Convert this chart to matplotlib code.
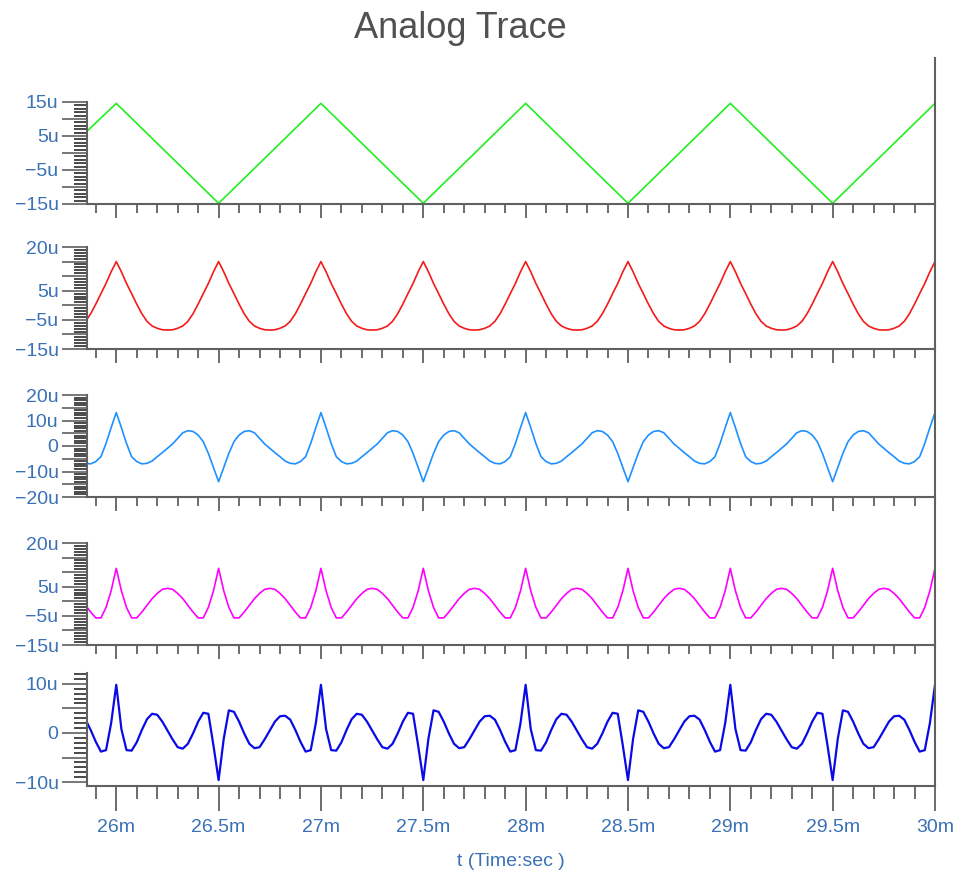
import numpy as np
import matplotlib
matplotlib.use("Agg")
import matplotlib.pyplot as plt
from matplotlib.ticker import MultipleLocator, FuncFormatter
from matplotlib.lines import Line2D

plt.rcParams["font.family"] = ["Liberation Sans", "DejaVu Sans"]

# time axis in ms, sample step 0.025 ms
t = np.round(np.arange(167) * 0.025 + 25.85, 3)

# trace 1: triangle, vertices only (uV)
tri_t = [25.85, 26.0, 26.5, 27.0, 27.5, 28.0, 28.5, 29.0, 29.5, 30.0]
tri_v = [6.0, 14.6, -14.8, 14.6, -14.8, 14.6, -14.8, 14.6, -14.8, 14.6]

# traces 2-5 sampled on t (uV)
red_v = [
    -5.5, -2.9, 0.4, 4.0, 7.5, 11.5,
    15, 11.5, 7.5, 4.0, 0.4, -2.9, -5.5, -7.1, -7.9, -8.4, -8.5, -8.4, -7.9, -7.1, -5.5, -2.9, 0.4, 4.0, 7.5, 11.5,
    15, 11.5, 7.5, 4.0, 0.4, -2.9, -5.5, -7.1, -7.9, -8.4, -8.5, -8.4, -7.9, -7.1, -5.5, -2.9, 0.4, 4.0, 7.5, 11.5,
    15, 11.5, 7.5, 4.0, 0.4, -2.9, -5.5, -7.1, -7.9, -8.4, -8.5, -8.4, -7.9, -7.1, -5.5, -2.9, 0.4, 4.0, 7.5, 11.5,
    15, 11.5, 7.5, 4.0, 0.4, -2.9, -5.5, -7.1, -7.9, -8.4, -8.5, -8.4, -7.9, -7.1, -5.5, -2.9, 0.4, 4.0, 7.5, 11.5,
    15, 11.5, 7.5, 4.0, 0.4, -2.9, -5.5, -7.1, -7.9, -8.4, -8.5, -8.4, -7.9, -7.1, -5.5, -2.9, 0.4, 4.0, 7.5, 11.5,
    15, 11.5, 7.5, 4.0, 0.4, -2.9, -5.5, -7.1, -7.9, -8.4, -8.5, -8.4, -7.9, -7.1, -5.5, -2.9, 0.4, 4.0, 7.5, 11.5,
    15, 11.5, 7.5, 4.0, 0.4, -2.9, -5.5, -7.1, -7.9, -8.4, -8.5, -8.4, -7.9, -7.1, -5.5, -2.9, 0.4, 4.0, 7.5, 11.5,
    15, 11.5, 7.5, 4.0, 0.4, -2.9, -5.5, -7.1, -7.9, -8.4, -8.5, -8.4, -7.9, -7.1, -5.5, -2.9, 0.4, 4.0, 7.5, 11.5,
    15,
]

sky_v = [
    -6.8, -7.0, -6.1, -4.2, 1.0, 7.2,
    13.1, 7.2, 1.0, -4.2, -6.1, -7.0, -6.8, -5.9, -4.2, -2.6, -0.9, 0.8, 3.0, 5.2, 6.0, 5.7, 4.3, 1.7, -2.9, -8.4,
    -14.0, -8.4, -2.9, 1.7, 4.3, 5.7, 6.0, 5.2, 3.0, 0.8, -0.9, -2.6, -4.2, -5.9, -6.8, -7.0, -6.1, -4.2, 1.0, 7.2,
    13.1, 7.2, 1.0, -4.2, -6.1, -7.0, -6.8, -5.9, -4.2, -2.6, -0.9, 0.8, 3.0, 5.2, 6.0, 5.7, 4.3, 1.7, -2.9, -8.4,
    -14.0, -8.4, -2.9, 1.7, 4.3, 5.7, 6.0, 5.2, 3.0, 0.8, -0.9, -2.6, -4.2, -5.9, -6.8, -7.0, -6.1, -4.2, 1.0, 7.2,
    13.1, 7.2, 1.0, -4.2, -6.1, -7.0, -6.8, -5.9, -4.2, -2.6, -0.9, 0.8, 3.0, 5.2, 6.0, 5.7, 4.3, 1.7, -2.9, -8.4,
    -14.0, -8.4, -2.9, 1.7, 4.3, 5.7, 6.0, 5.2, 3.0, 0.8, -0.9, -2.6, -4.2, -5.9, -6.8, -7.0, -6.1, -4.2, 1.0, 7.2,
    13.1, 7.2, 1.0, -4.2, -6.1, -7.0, -6.8, -5.9, -4.2, -2.6, -0.9, 0.8, 3.0, 5.2, 6.0, 5.7, 4.3, 1.7, -2.9, -8.4,
    -14.0, -8.4, -2.9, 1.7, 4.3, 5.7, 6.0, 5.2, 3.0, 0.8, -0.9, -2.6, -4.2, -5.9, -6.8, -7.0, -6.1, -4.2, 1.0, 7.2,
    13.1,
]

mag_v = [
    -1.4, -3.7, -5.7, -5.7, -2.1, 3.6,
    11.3, 3.6, -2.1, -5.7, -5.7, -3.7, -1.4, 0.9, 2.7, 4.1, 4.45, 4.1, 2.7, 0.9, -1.4, -3.7, -5.7, -5.7, -2.1, 3.6,
    11.3, 3.6, -2.1, -5.7, -5.7, -3.7, -1.4, 0.9, 2.7, 4.1, 4.45, 4.1, 2.7, 0.9, -1.4, -3.7, -5.7, -5.7, -2.1, 3.6,
    11.3, 3.6, -2.1, -5.7, -5.7, -3.7, -1.4, 0.9, 2.7, 4.1, 4.45, 4.1, 2.7, 0.9, -1.4, -3.7, -5.7, -5.7, -2.1, 3.6,
    11.3, 3.6, -2.1, -5.7, -5.7, -3.7, -1.4, 0.9, 2.7, 4.1, 4.45, 4.1, 2.7, 0.9, -1.4, -3.7, -5.7, -5.7, -2.1, 3.6,
    11.3, 3.6, -2.1, -5.7, -5.7, -3.7, -1.4, 0.9, 2.7, 4.1, 4.45, 4.1, 2.7, 0.9, -1.4, -3.7, -5.7, -5.7, -2.1, 3.6,
    11.3, 3.6, -2.1, -5.7, -5.7, -3.7, -1.4, 0.9, 2.7, 4.1, 4.45, 4.1, 2.7, 0.9, -1.4, -3.7, -5.7, -5.7, -2.1, 3.6,
    11.3, 3.6, -2.1, -5.7, -5.7, -3.7, -1.4, 0.9, 2.7, 4.1, 4.45, 4.1, 2.7, 0.9, -1.4, -3.7, -5.7, -5.7, -2.1, 3.6,
    11.3, 3.6, -2.1, -5.7, -5.7, -3.7, -1.4, 0.9, 2.7, 4.1, 4.45, 4.1, 2.7, 0.9, -1.4, -3.7, -5.7, -5.7, -2.1, 3.6,
    11.3,
]

blu_v = [
    2.7, 0.6, -1.8, -3.8, -3.5, 2.0,
    9.8, 0.8, -3.5, -3.6, -1.9, 0.6, 2.8, 3.9, 3.7, 2.3, 0.5, -1.3, -2.9, -3.2, -2.2, -0.1, 2.3, 4.1, 3.9, -2.6,
    -9.6, -1.2, 4.6, 4.3, 2.3, -0.1, -2.2, -3.1, -2.9, -1.3, 0.5, 2.3, 3.4, 3.5, 2.7, 0.6, -1.8, -3.8, -3.5, 2.0,
    9.8, 0.8, -3.5, -3.6, -1.9, 0.6, 2.8, 3.9, 3.7, 2.3, 0.5, -1.3, -2.9, -3.2, -2.2, -0.1, 2.3, 4.1, 3.9, -2.6,
    -9.6, -1.2, 4.6, 4.3, 2.3, -0.1, -2.2, -3.1, -2.9, -1.3, 0.5, 2.3, 3.4, 3.5, 2.7, 0.6, -1.8, -3.8, -3.5, 2.0,
    9.8, 0.8, -3.5, -3.6, -1.9, 0.6, 2.8, 3.9, 3.7, 2.3, 0.5, -1.3, -2.9, -3.2, -2.2, -0.1, 2.3, 4.1, 3.9, -2.6,
    -9.6, -1.2, 4.6, 4.3, 2.3, -0.1, -2.2, -3.1, -2.9, -1.3, 0.5, 2.3, 3.4, 3.5, 2.7, 0.6, -1.8, -3.8, -3.5, 2.0,
    9.8, 0.8, -3.5, -3.6, -1.9, 0.6, 2.8, 3.9, 3.7, 2.3, 0.5, -1.3, -2.9, -3.2, -2.2, -0.1, 2.3, 4.1, 3.9, -2.6,
    -9.6, -1.2, 4.6, 4.3, 2.3, -0.1, -2.2, -3.1, -2.9, -1.3, 0.5, 2.3, 3.4, 3.5, 2.7, 0.6, -1.8, -3.8, -3.5, 2.0,
    9.8,
]

# panel rows: (bottom px, top px, ylim, labelled ticks)
W, H = 954, 881
panels = [
    (204, 102, (-15, 15), [15, 5, -5, -15]),
    (349, 247, (-15, 20), [20, 5, -5, -15]),
    (497, 395, (-20, 20), [20, 10, 0, -10, -20]),
    (645, 543, (-15, 20), [20, 5, -5, -15]),
    (786, 673, (-10.8, 12.2), [10, 0, -10]),
]
colors = ["#22ee22", "#f41a1a", "#1e90ff", "#ff00ff", "#0a0ae6"]
label_blue = "#3a72b5"
grey = "#606060"
dark = "#4a4a4a"
x0, x1 = 87, 935

fig = plt.figure(figsize=(W / 100, H / 100), dpi=100)


def ulabel(labelled):
    def f(v, pos):
        iv = int(round(v))
        if iv not in labelled:
            return ""
        if iv == 0:
            return "0"
        return f"{iv}u".replace("-", "\u2212")
    return f


axes = []
for i, (bot, top, ylim, labelled) in enumerate(panels):
    ax = fig.add_axes([x0 / W, 1 - bot / H, (x1 - x0) / W, (bot - top) / H])
    ax.set_xlim(25.857, 30.0)
    ax.set_ylim(*ylim)
    for s in ["top", "right"]:
        ax.spines[s].set_visible(False)
    for s in ["left", "bottom"]:
        ax.spines[s].set_color(grey)
        ax.spines[s].set_linewidth(1.5)
    ax.yaxis.set_major_locator(MultipleLocator(5))
    ax.yaxis.set_minor_locator(MultipleLocator(1))
    ax.yaxis.set_major_formatter(FuncFormatter(ulabel(labelled)))
    ax.xaxis.set_major_locator(MultipleLocator(0.5))
    ax.xaxis.set_minor_locator(MultipleLocator(0.1))
    ax.xaxis.set_major_formatter(FuncFormatter(lambda v, p: f"{v:g}m"))
    ax.tick_params(axis="y", which="major", length=18, width=1.2, color=grey,
                   labelsize=14, labelcolor=label_blue, pad=2.5)
    ax.tick_params(axis="y", which="minor", length=9.6, width=1.4, color=dark)
    last = i == len(panels) - 1
    ax.tick_params(axis="x", which="major", length=18 if last else 10, width=1.3,
                   color=grey, labelsize=14, labelcolor=label_blue, pad=6,
                   labelbottom=last)
    ax.tick_params(axis="x", which="minor", length=9 if last else 6.5, width=1.3,
                   color=grey)
    ax.patch.set_alpha(0)
    axes.append(ax)

axes[0].plot(tri_t, tri_v, color=colors[0], lw=1.2)
axes[1].plot(t, red_v, color=colors[1], lw=1.2)
axes[2].plot(t, sky_v, color=colors[2], lw=1.2)
axes[3].plot(t, mag_v, color=colors[3], lw=1.2)
axes[4].plot(t, blu_v, color=colors[4], lw=1.6)

# shared right border
fig.add_artist(Line2D([x1 / W, x1 / W], [1 - 58 / H, 1 - 786 / H], color=grey, lw=1.5))

fig.text(460 / W, 1 - 28 / H, "Analog Trace", ha="center", va="center",
         fontsize=26, color="#505050")
fig.text((x0 + x1) / 2 / W, 1 - 862 / H, "t (Time:sec )", ha="center", va="center",
         fontsize=14, color=label_blue)

fig.savefig("out.png", dpi=100)
